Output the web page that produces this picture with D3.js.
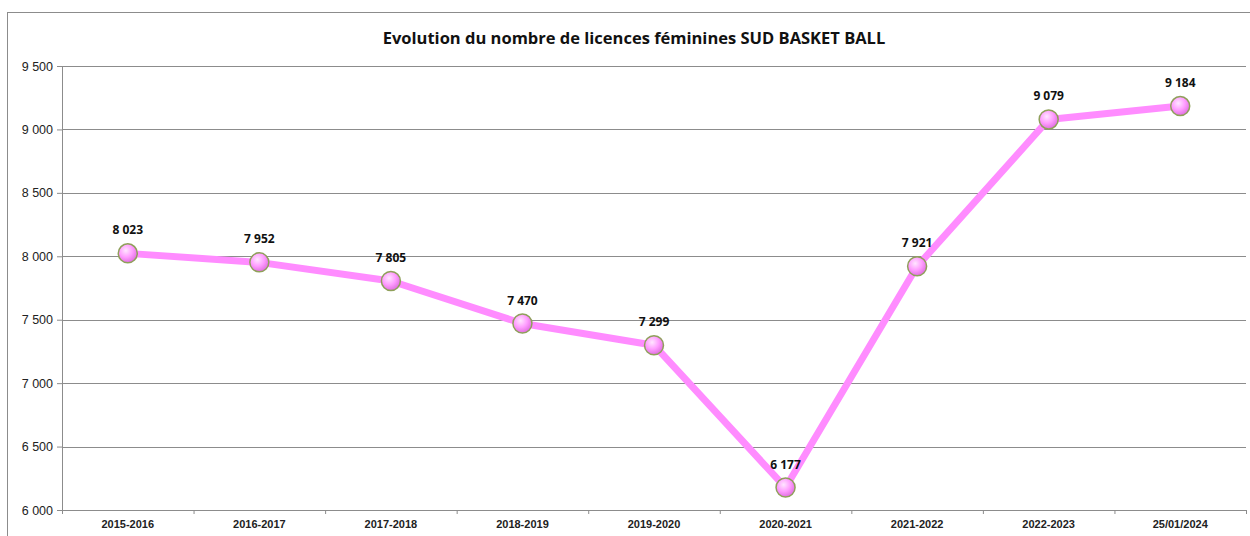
<!DOCTYPE html>
<html>
<head>
<meta charset="utf-8">
<script src="https://cdn.jsdelivr.net/npm/d3@7"></script>
<style>
  body { margin: 0; background: #fff; }
  svg { display: block; font-family: "Open Sans", "Noto Sans", sans-serif; }
</style>
</head>
<body>
<div id="chart"></div>
<script>
const seasons = ["2015-2016", "2016-2017", "2017-2018", "2018-2019", "2019-2020", "2020-2021", "2021-2022", "2022-2023", "25/01/2024"];
const licences = [8023, 7952, 7805, 7470, 7299, 6177, 7921, 9079, 9184];
const yTicks = [6000, 6500, 7000, 7500, 8000, 8500, 9000, 9500];
const title = "Evolution du nombre de licences féminines SUD BASKET BALL";

const W = 1250, H = 536;
const margin = { top: 66, right: 4, bottom: 26, left: 62 },
    width = W - margin.left - margin.right,
    height = H - margin.top - margin.bottom;

const fmt = v => d3.format(",")(v).replace(/,/g, " ");

const svg = d3.select("#chart").append("svg")
    .attr("width", W)
    .attr("height", H);

// outer chart frame
svg.append("rect")
    .attr("x", 7.5).attr("y", 12.5)
    .attr("width", W).attr("height", H)
    .attr("fill", "none")
    .attr("stroke", "#8c8c8c");

svg.append("text")
    .attr("x", 634).attr("y", 44)
    .attr("text-anchor", "middle")
    .style("font-size", "16.5px")
    .style("font-weight", "bold")
    .attr("fill", "#111")
    .text(title);

const g = svg.append("g").attr("transform", `translate(${margin.left},${margin.top})`);

const x = d3.scaleBand().domain(seasons).range([0, width]);
const y = d3.scaleLinear().domain([6000, 9500]).range([height, 0]);

// gridlines
g.selectAll(".grid")
    .data(yTicks)
    .enter().append("line")
    .attr("x1", 0).attr("x2", width)
    .attr("y1", d => Math.round(y(d)) + 0.5).attr("y2", d => Math.round(y(d)) + 0.5)
    .attr("stroke", "#8c8c8c").attr("stroke-width", 1);

// y axis
const yAxis = g.append("g")
    .call(d3.axisLeft(y).tickValues(yTicks).tickSize(5).tickPadding(4).tickFormat(fmt));
yAxis.select(".domain").attr("stroke", "#8c8c8c");
yAxis.selectAll(".tick line").attr("stroke", "#8c8c8c");
yAxis.selectAll("text").style("font-size", "12.5px").attr("fill", "#222");

// x axis
const xAxis = g.append("g")
    .attr("transform", `translate(0,${height})`)
    .call(d3.axisBottom(x).tickSize(0).tickPadding(10));
xAxis.select(".domain").attr("stroke", "#8c8c8c");
xAxis.selectAll("text").style("font-size", "11px").style("font-weight", "bold").attr("fill", "#222");
g.selectAll(".xtick")
    .data(d3.range(seasons.length + 1))
    .enter().append("line")
    .attr("x1", i => i * x.step() + 0.5).attr("x2", i => i * x.step() + 0.5)
    .attr("y1", height).attr("y2", height + 4)
    .attr("stroke", "#8c8c8c");

const data = seasons.map((s, i) => ({ season: s, value: licences[i] }));
const cx = d => x(d.season) + x.bandwidth() / 2;

const defs = svg.append("defs");
const grad = defs.append("radialGradient")
    .attr("id", "ball")
    .attr("cx", "40%").attr("cy", "35%").attr("r", "65%");
grad.append("stop").attr("offset", "0%").attr("stop-color", "#ffe6ff");
grad.append("stop").attr("offset", "55%").attr("stop-color", "#ff9cff");
grad.append("stop").attr("offset", "100%").attr("stop-color", "#e070e0");

g.append("path")
    .datum(data)
    .attr("fill", "none")
    .attr("stroke", "#ff8cff")
    .attr("stroke-width", 7)
    .attr("stroke-linejoin", "round")
    .attr("d", d3.line().x(cx).y(d => y(d.value)));

g.selectAll(".pt")
    .data(data)
    .enter().append("circle")
    .attr("cx", cx)
    .attr("cy", d => y(d.value))
    .attr("r", 9.5)
    .attr("fill", "url(#ball)")
    .attr("stroke", "#8fa05a")
    .attr("stroke-width", 1.5);

g.selectAll(".lbl")
    .data(data)
    .enter().append("text")
    .attr("x", cx)
    .attr("y", d => y(d.value) - 19)
    .attr("text-anchor", "middle")
    .style("font-size", "12px")
    .style("font-weight", "bold")
    .attr("fill", "#111")
    .text(d => fmt(d.value));
</script>
</body>
</html>
